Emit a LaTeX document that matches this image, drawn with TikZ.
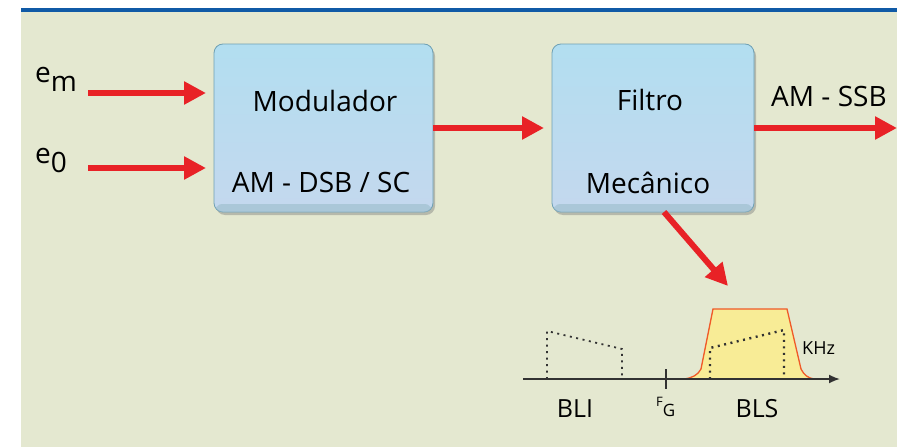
\documentclass[tikz,border=0pt]{standalone}
\usepackage{fontspec}
\setmainfont{Open Sans}
\usetikzlibrary{arrows.meta,shadows}
\definecolor{bgbeige}{RGB}{228,232,208}
\definecolor{topblue}{RGB}{16,90,166}
\definecolor{sigred}{RGB}{232,34,38}
\definecolor{boxtop}{RGB}{178,222,240}
\definecolor{boxbot}{RGB}{196,216,238}
\definecolor{boxedge}{RGB}{110,160,180}
\definecolor{bandfill}{RGB}{248,236,150}
\definecolor{bandline}{RGB}{240,90,40}
\definecolor{axisgray}{RGB}{50,50,50}
\tikzset{
  blockbox/.style={rounded corners=9pt, draw=boxedge, line width=0.8pt,
    top color=boxtop, bottom color=boxbot,
    drop shadow={shadow xshift=2pt, shadow yshift=-3pt, opacity=0.45}},
  sigarrow/.style={draw=sigred, line width=6pt,
    -{Triangle[length=22pt,width=22pt]}},
  bigtext/.style={font=\fontsize{28}{32}\selectfont, inner sep=0pt, anchor=base},
  spectext/.style={font=\fontsize{25}{28}\selectfont, inner sep=0pt, anchor=base},
  dotline/.style={draw=axisgray, line width=1.8pt, dash pattern=on 2pt off 4.5pt}
}
\begin{document}
\begin{tikzpicture}[x=1pt,y=-1pt]
\useasboundingbox (0,0) rectangle (897,447);
% panel background and top rule
\fill[bgbeige] (21,11) rectangle (897,447);
\fill[topblue] (21,8) rectangle (897,11.5);

% blocks
\path[blockbox] (214,44) rectangle (433,212);
\path[blockbox] (552,44) rectangle (754,212);
\fill[boxedge!70, opacity=0.6, rounded corners=6pt] (216,204) rectangle (431,212);
\fill[boxedge!70, opacity=0.6, rounded corners=6pt] (554,204) rectangle (752,212);
\coordinate (modE) at (433,128);
\coordinate (filE) at (754,128);
\coordinate (filS) at (664,212);
\node[bigtext] (modA) at (325,111) {Modulador};
\node[bigtext] (modB) at (321,192) {AM - DSB / SC};
\node[bigtext] (filA) at (650,110) {Filtro};
\node[bigtext] (filB) at (648,193) {Mecânico};

% inputs
\node[bigtext, anchor=base west] (em) at (35,82) {e\raisebox{-9pt}{m}};
\node[bigtext, anchor=base west] (e0) at (35,163) {e\raisebox{-9pt}{0}};
\coordinate (emS) at (88,93);
\coordinate (e0S) at (88,168);
\coordinate (emT) at (206,93);
\coordinate (e0T) at (206,168);
\draw[sigarrow] (emS) -- (emT);
\draw[sigarrow] (e0S) -- (e0T);

% chain
\coordinate (midT) at (544,128);
\draw[sigarrow] (modE) -- (midT);
\coordinate (outT) at (897,128);
\draw[sigarrow] (filE) -- (outT);
\node[bigtext, anchor=base west] (ssb) at (771,106) {AM - SSB};
\coordinate (specT) at (728,286);
\draw[sigarrow] (filS) -- (specT);

% spectrum sketch
\coordinate (axL) at (523,379);
\coordinate (axR) at (840,379);
\path[fill=bandfill, draw=bandline, line width=1.3pt]
  (684,379) .. controls (692,378) and (698,375) .. (701,369)
  -- (713,309) -- (787,309) -- (801,369)
  .. controls (804,375) and (808,378) .. (814,379);
\draw[axisgray, line width=1.8pt, -{Latex[length=11pt,width=9pt]}] (axL) -- (axR);
\draw[axisgray, line width=1.8pt] (666,369) -- (666,389);
\draw[dotline] (547,379) -- (547,331) -- (622,349) -- (622,379);
\draw[dotline, line width=2.4pt] (710,379) -- (710,348) -- (784,330) -- (784,379);
\node[font=\fontsize{18}{20}\selectfont, inner sep=0pt, anchor=base west] (khz) at (802,354) {KHz};
\node[spectext] (bli) at (575,417) {BLI};
\node[spectext] (bls) at (757,417) {BLS};
\node[inner sep=0pt, anchor=base west, font=\fontsize{13}{16}\selectfont] (fg) at (656,406)
  {F\raisebox{-10pt}{\fontsize{17}{18}\selectfont G}};
\end{tikzpicture}
\end{document}
